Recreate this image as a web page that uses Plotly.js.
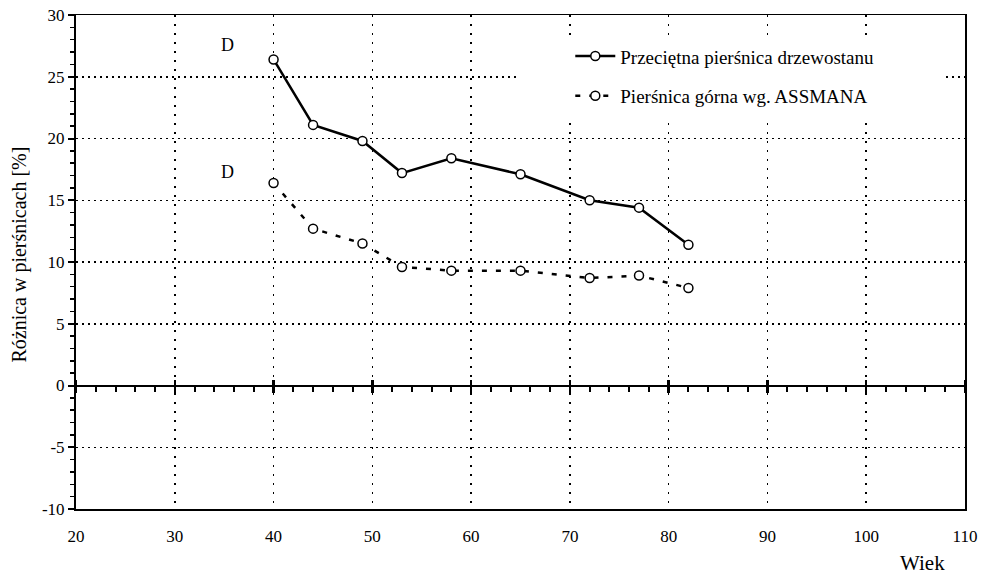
<!DOCTYPE html>
<html><head><meta charset="utf-8">
<script src="https://cdn.plot.ly/plotly-3.0.1.min.js"></script>
<style>html,body{margin:0;padding:0;background:#fff}</style>
</head><body>
<div id="chart" style="width:981px;height:576px"></div>
<script>
const ages = [40, 44, 49, 53, 58, 65, 72, 77, 82];
const sredniaValues = [26.4, 21.1, 19.8, 17.2, 18.4, 17.1, 15.0, 14.4, 11.4];
const assmanValues = [16.4, 12.7, 11.5, 9.6, 9.3, 9.3, 8.7, 8.9, 7.9];
const seriesNames = ['Przeciętna pierśnica drzewostanu', 'Pierśnica górna wg. ASSMANA'];
const xTicks = [20, 30, 40, 50, 60, 70, 80, 90, 100, 110];
const yTicks = [-10, -5, 0, 5, 10, 15, 20, 25, 30];

const serif = '"Liberation Serif", "DejaVu Serif", serif';
const marker = {symbol: 'circle', size: 9, color: '#fff', line: {color: '#000', width: 1.5}};

const traces = [
  {x: ages, y: sredniaValues, name: seriesNames[0], type: 'scatter', mode: 'lines+markers',
   line: {color: '#000', width: 2.5}, marker: marker, legendgroup: 'a'},
  {x: ages, y: assmanValues, name: seriesNames[1], type: 'scatter', mode: 'lines+markers',
   line: {color: '#000', width: 2.5, dash: '5px,9px'}, marker: marker, legendgroup: 'b'},
  {x: [20, 110], y: [0, 0], xaxis: 'x2', yaxis: 'y', mode: 'lines', line: {width: 0}, showlegend: false, hoverinfo: 'skip'},
  {x: [20, 110], y: [0, 0], xaxis: 'x3', yaxis: 'y', mode: 'lines', line: {width: 0}, showlegend: false, hoverinfo: 'skip'}
];

const zeroPos = (0 - yTicks[0]) / (yTicks[yTicks.length - 1] - yTicks[0]);

const layout = {
  width: 981, height: 576,
  margin: {l: 76, r: 16, t: 15, b: 67},
  paper_bgcolor: '#fff', plot_bgcolor: '#fff',
  font: {family: serif, color: '#000', size: 17},
  showlegend: true,
  legend: {x: 0.556, y: 0.955, xanchor: 'left', yanchor: 'top', bgcolor: 'rgba(0,0,0,0)',
           font: {family: serif, size: 19, color: '#000'}, tracegroupgap: 12, itemwidth: 40},
  xaxis: {range: [20, 110], tickvals: xTicks, ticktext: xTicks.map(String),
          showgrid: true, gridcolor: '#000', griddash: '2px,7px', gridwidth: 1.5,
          showline: true, linecolor: '#000', linewidth: 1.5, mirror: true,
          ticks: 'outside', ticklen: 11, tickcolor: 'rgba(0,0,0,0)',
          zeroline: false, tickfont: {family: serif, size: 17}},
  xaxis2: {range: [20, 110], overlaying: 'x', anchor: 'free', position: zeroPos, side: 'bottom',
           showgrid: false, zeroline: false, showline: true, linecolor: '#000', linewidth: 2.5,
           ticks: 'outside', dtick: 10, tick0: 20, ticklen: 6, tickwidth: 2.5, tickcolor: '#000',
           minor: {dtick: 2, tick0: 20, ticks: 'outside', ticklen: 5, tickwidth: 2, tickcolor: '#000'},
           showticklabels: false},
  xaxis3: {range: [20, 110], overlaying: 'x', anchor: 'free', position: zeroPos, side: 'top',
           showgrid: false, zeroline: false, showline: false,
           ticks: 'outside', dtick: 10, tick0: 20, ticklen: 6, tickwidth: 2.5, tickcolor: '#000',
           showticklabels: false},
  yaxis: {range: [-10, 30], tickvals: yTicks, ticktext: yTicks.map(String),
          showgrid: true, gridcolor: '#000', griddash: '2px,4px', gridwidth: 1.5,
          showline: true, linecolor: '#000', linewidth: 2, mirror: true,
          ticks: 'outside', ticklen: 6, tickwidth: 2, tickcolor: '#000',
          minor: {dtick: 1, ticks: 'outside', ticklen: 4, tickwidth: 1.5, tickcolor: '#000'},
          zeroline: false, tickfont: {family: serif, size: 17}},
  shapes: [
    {type: 'rect', xref: 'paper', yref: 'paper', x0: 0.495, x1: 0.978, y0: 0.79, y1: 0.955,
     fillcolor: '#fff', line: {width: 0}, layer: 'above'}
  ],
  annotations: [
    {x: 35.3, y: 27.6, xref: 'x', yref: 'y', text: 'D', showarrow: false, font: {family: serif, size: 18}},
    {x: 35.3, y: 17.3, xref: 'x', yref: 'y', text: 'D', showarrow: false, font: {family: serif, size: 18}},
    {x: 0.952, y: -0.109, xref: 'paper', yref: 'paper', text: 'Wiek', showarrow: false,
     xanchor: 'center', yanchor: 'middle', font: {family: serif, size: 21}},
    {x: -0.063, y: 0.515, xref: 'paper', yref: 'paper', text: 'Różnica w pierśnicach [%]', showarrow: false,
     textangle: -90, xanchor: 'center', yanchor: 'middle', font: {family: serif, size: 20}}
  ]
};

Plotly.newPlot('chart', traces, layout, {displayModeBar: false, staticPlot: true});
</script>
</body></html>
